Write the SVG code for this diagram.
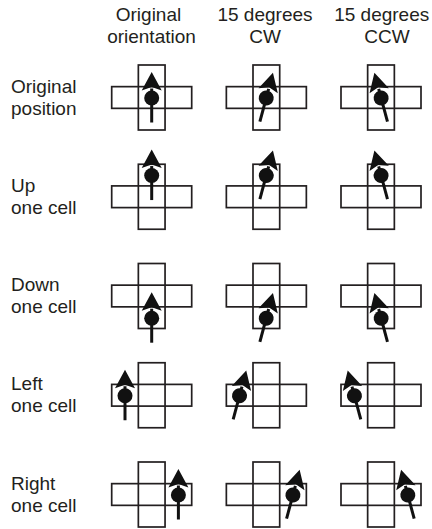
<svg xmlns="http://www.w3.org/2000/svg" xmlns:xlink="http://www.w3.org/1999/xlink" width="432" height="529" viewBox="0 0 432 529">
  <style>
    .t { font-family: "Liberation Sans", Arial, sans-serif; font-size: 19px; fill: #231f20; }
    .c { text-anchor: middle; }
    .cell { fill: none; stroke: #231f20; stroke-width: 1.7; }
    .shaft { stroke: #111; stroke-width: 3; stroke-linecap: butt; }
    .blk { fill: #111; }
  </style>
  <defs>
    <g id="cross">
      <rect class="cell" x="-13.35" y="-32.5" width="26.7" height="65"/>
      <rect class="cell" x="-40" y="-10.85" width="80" height="21.7"/>
    </g>
    <g id="arrow">
      <line class="shaft" x1="0" y1="25" x2="0" y2="-9"/>
      <circle class="blk" cx="0" cy="0.5" r="7.5"/>
      <polygon class="blk" points="0,-25.5 10,-7 0,-10.5 -10,-7"/>
    </g>
  </defs>

  <g id="headers">
    <g id="h-original">
      <text class="t c" x="148.5" y="20.5">Original</text>
      <text class="t c" x="151.5" y="42.5">orientation</text>
    </g>
    <g id="h-cw">
      <text class="t c" x="265" y="20.5">15 degrees</text>
      <text class="t c" x="265" y="42.5">CW</text>
    </g>
    <g id="h-ccw">
      <text class="t c" x="381.7" y="20.5">15 degrees</text>
      <text class="t c" x="387" y="42.5">CCW</text>
    </g>
  </g>

  <g id="row-labels">
    <g id="l-original"><text class="t" x="11" y="92.5">Original</text><text class="t" x="11" y="114.5">position</text></g>
    <g id="l-up"><text class="t" x="11" y="191.75">Up</text><text class="t" x="11" y="213.75">one cell</text></g>
    <g id="l-down"><text class="t" x="11" y="291">Down</text><text class="t" x="11" y="313">one cell</text></g>
    <g id="l-left"><text class="t" x="11" y="390.25">Left</text><text class="t" x="11" y="412.25">one cell</text></g>
    <g id="l-right"><text class="t" x="11" y="489.5">Right</text><text class="t" x="11" y="511.5">one cell</text></g>
  </g>

  <g id="r1c1"><use xlink:href="#cross" transform="translate(151.7,97.5)"/><use xlink:href="#arrow" transform="translate(151.7,97.5)"/></g>
  <g id="r1c2"><use xlink:href="#cross" transform="translate(266.35,97.5)"/><use xlink:href="#arrow" transform="translate(266.35,97.5) rotate(15)"/></g>
  <g id="r1c3"><use xlink:href="#cross" transform="translate(381,97.5)"/><use xlink:href="#arrow" transform="translate(381,97.5) rotate(-15)"/></g>

  <g id="r2c1"><use xlink:href="#cross" transform="translate(151.7,196.75)"/><use xlink:href="#arrow" transform="translate(151.7,175.05)"/></g>
  <g id="r2c2"><use xlink:href="#cross" transform="translate(266.35,196.75)"/><use xlink:href="#arrow" transform="translate(266.35,175.05) rotate(15)"/></g>
  <g id="r2c3"><use xlink:href="#cross" transform="translate(381,196.75)"/><use xlink:href="#arrow" transform="translate(381,175.05) rotate(-15)"/></g>

  <g id="r3c1"><use xlink:href="#cross" transform="translate(151.7,296)"/><use xlink:href="#arrow" transform="translate(151.7,317.7)"/></g>
  <g id="r3c2"><use xlink:href="#cross" transform="translate(266.35,296)"/><use xlink:href="#arrow" transform="translate(266.35,317.7) rotate(15)"/></g>
  <g id="r3c3"><use xlink:href="#cross" transform="translate(381,296)"/><use xlink:href="#arrow" transform="translate(381,317.7) rotate(-15)"/></g>

  <g id="r4c1"><use xlink:href="#cross" transform="translate(151.7,395.25)"/><use xlink:href="#arrow" transform="translate(125,395.25)"/></g>
  <g id="r4c2"><use xlink:href="#cross" transform="translate(266.35,395.25)"/><use xlink:href="#arrow" transform="translate(239.65,395.25) rotate(15)"/></g>
  <g id="r4c3"><use xlink:href="#cross" transform="translate(381,395.25)"/><use xlink:href="#arrow" transform="translate(354.3,395.25) rotate(-15)"/></g>

  <g id="r5c1"><use xlink:href="#cross" transform="translate(151.7,494.5)"/><use xlink:href="#arrow" transform="translate(178.4,494.5)"/></g>
  <g id="r5c2"><use xlink:href="#cross" transform="translate(266.35,494.5)"/><use xlink:href="#arrow" transform="translate(293.05,494.5) rotate(15)"/></g>
  <g id="r5c3"><use xlink:href="#cross" transform="translate(381,494.5)"/><use xlink:href="#arrow" transform="translate(407.7,494.5) rotate(-15)"/></g>

  <g id="connectors"/>
</svg>
